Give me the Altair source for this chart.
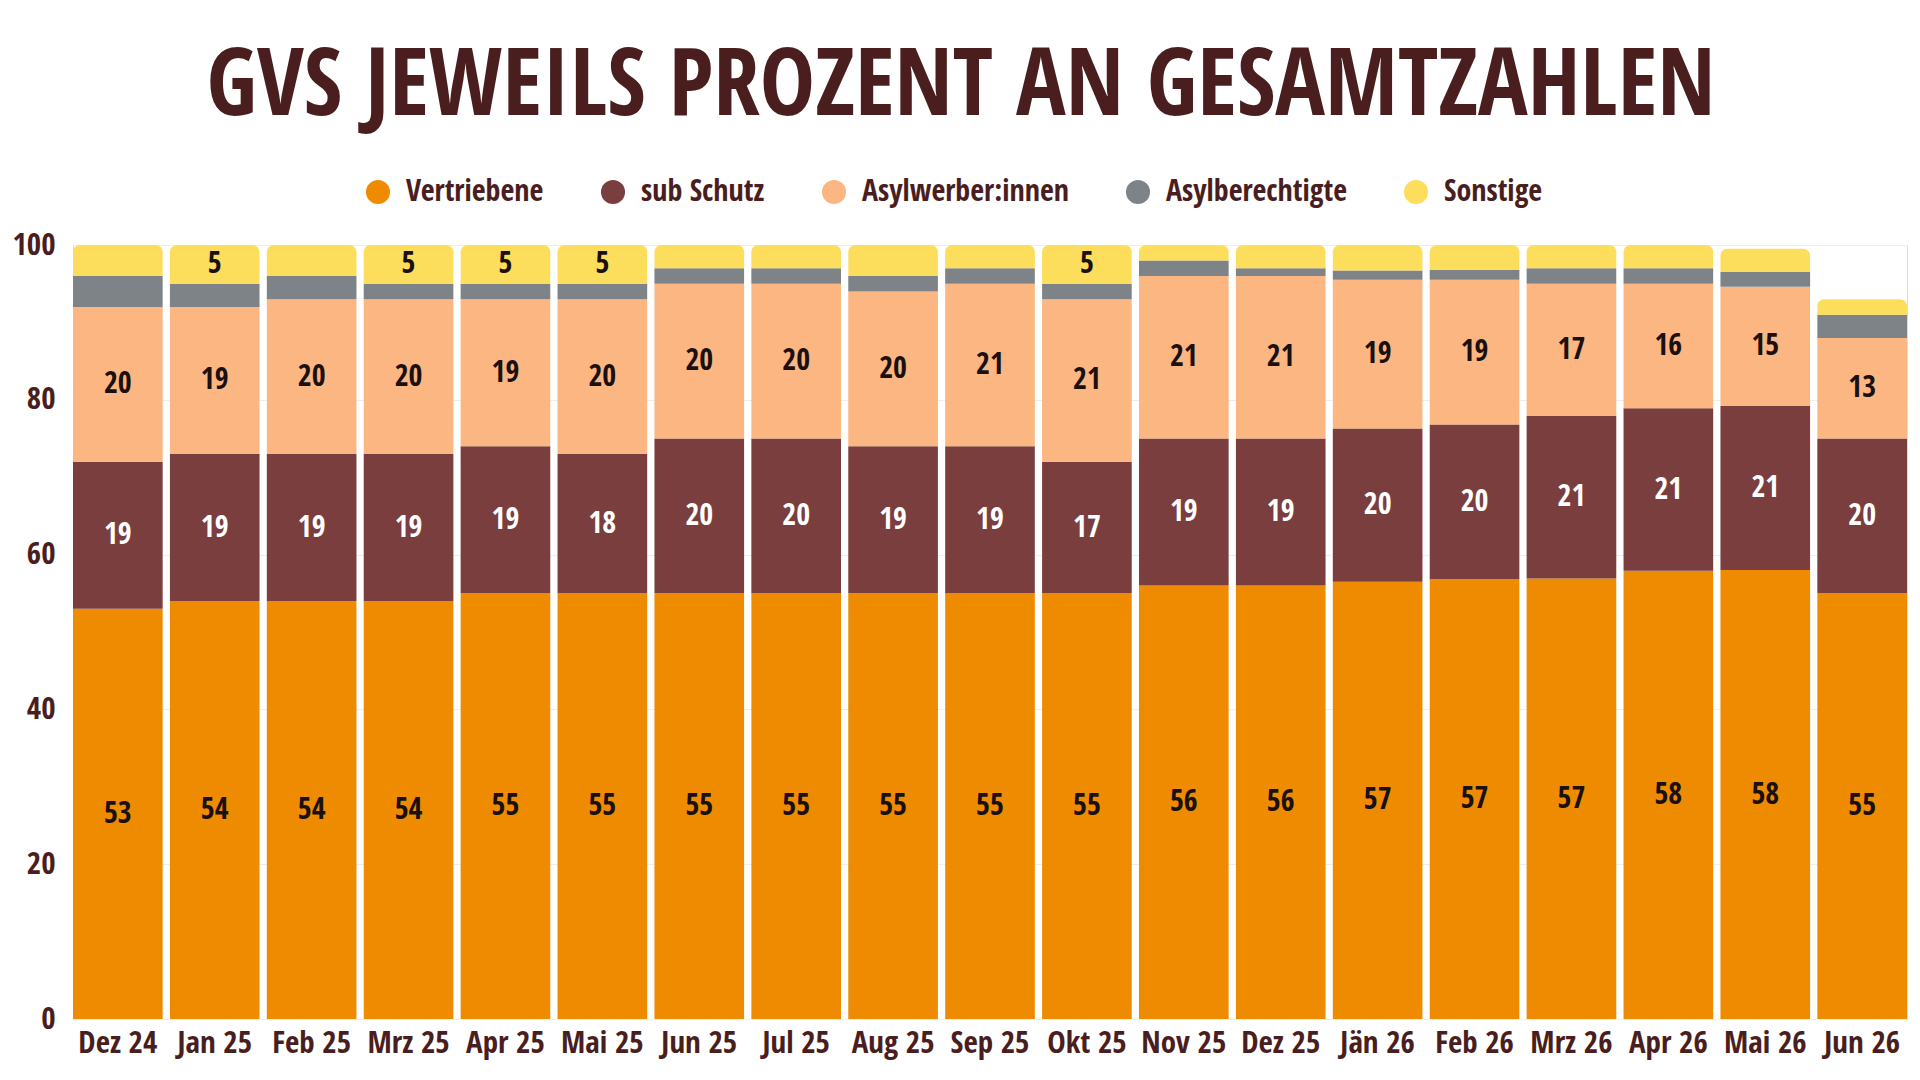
import altair as alt
import pandas as pd

months = ["Dez 24", "Jan 25", "Feb 25", "Mrz 25", "Apr 25", "Mai 25", "Jun 25",
          "Jul 25", "Aug 25", "Sep 25", "Okt 25", "Nov 25", "Dez 25", "Jän 26",
          "Feb 26", "Mrz 26", "Apr 26", "Mai 26", "Jun 26"]
series = ["Vertriebene", "sub Schutz", "Asylwerber:innen", "Asylberechtigte", "Sonstige"]
colors = ["#EE8B00", "#793E3D", "#FBB681", "#7D8387", "#FDDE5C"]

vertriebene = [53, 54, 54, 54, 55, 55, 55, 55, 55, 55, 55, 56, 56, 56.5, 56.8, 56.9, 57.9, 58, 55]
sub_schutz = [19, 19, 19, 19, 19, 18, 20, 20, 19, 19, 17, 19, 19, 19.8, 20, 21, 21, 21.2, 20]
asylwerber = [20, 19, 20, 20, 19, 20, 20, 20, 20, 21, 21, 21, 21, 19.2, 18.7, 17.1, 16.1, 15.4, 13]
asylberechtigte = [4, 3, 3, 2, 2, 2, 2, 2, 2, 2, 2, 2, 1, 1.2, 1.3, 2, 2, 1.9, 3]
sonstige = [4, 5, 4, 5, 5, 5, 3, 3, 4, 3, 5, 2, 3, 3.3, 3.2, 3, 3, 3, 2]

rows = []
for i, m in enumerate(months):
    for k, (s, vals) in enumerate(zip(series, [vertriebene, sub_schutz, asylwerber, asylberechtigte, sonstige])):
        rows.append({"month": m, "series": s, "order": k, "value": vals[i]})
df = pd.DataFrame(rows)

FONT = "Open Sans Condensed"
DARK = "#4A1E1E"

base = alt.Chart(df).transform_stack(
    stack="value", groupby=["month"], sort=[alt.SortField("order")], as_=["y0", "y1"]
).transform_calculate(mid="(datum.y0 + datum.y1) / 2")

x_enc = alt.X("month:N", sort=months, title=None,
              scale=alt.Scale(paddingInner=0.075, paddingOuter=0.0),
              axis=alt.Axis(labelAngle=0, ticks=False, domain=False, labelFont=FONT,
                            labelFontSize=31, labelFontWeight="bold", labelColor=DARK,
                            labelPadding=9, grid=False))
y_enc = alt.Y("y0:Q", title=None, scale=alt.Scale(domain=[0, 100], nice=False),
              axis=alt.Axis(values=[0, 20, 40, 60, 80, 100], ticks=False, domain=False,
                            labelFont=FONT, labelFontSize=31, labelFontWeight="bold",
                            labelColor=DARK, labelPadding=18, gridColor="#EEEEEE"))
color_enc = alt.Color("series:N", sort=series,
                      scale=alt.Scale(domain=series, range=colors),
                      legend=alt.Legend(title=None, orient="none", direction="horizontal",
                                        legendX=290, legendY=-68, symbolType="circle",
                                        symbolSize=580, symbolStrokeWidth=0,
                                        labelFont=FONT, labelFontSize=30, labelColor=DARK,
                                        labelFontWeight="bold", labelOffset=13, labelLimit=0,
                                        columnPadding=54))

bars = base.transform_filter(alt.datum.series != "Sonstige").mark_bar().encode(
    x=x_enc, y=y_enc, y2="y1:Q", color=color_enc
)
tops = base.transform_filter(alt.datum.series == "Sonstige").mark_bar(
    cornerRadiusTopLeft=7, cornerRadiusTopRight=7
).encode(x=alt.X("month:N", sort=months), y="y0:Q", y2="y1:Q", color=color_enc)

labels = base.transform_filter(alt.datum.value >= 5).mark_text(
    font=FONT, fontSize=30, fontWeight="bold", baseline="middle", align="center"
).encode(
    x=alt.X("month:N", sort=months),
    y=alt.Y("mid:Q"),
    text=alt.Text("value:Q", format=".0f"),
    color=alt.condition(alt.datum.series == "sub Schutz", alt.value("#FFFFFF"), alt.value("#1A1010"))
)

chart = alt.layer(bars, tops, labels).properties(
    width=1834, height=774,
    autosize=alt.AutoSizeParams(type="none"),
    padding={"left": 73, "top": 245, "right": 13, "bottom": 61},
    title=alt.TitleParams("GVS JEWEILS PROZENT AN GESAMTZAHLEN", font=FONT, fontSize=93,
                          fontWeight="bold", color=DARK, anchor="middle", offset=42,
                          dx=-29),
).configure_view(stroke=None).configure(background="white")

chart.save("out.html", embed_options={"renderer": "svg", "actions": False})
